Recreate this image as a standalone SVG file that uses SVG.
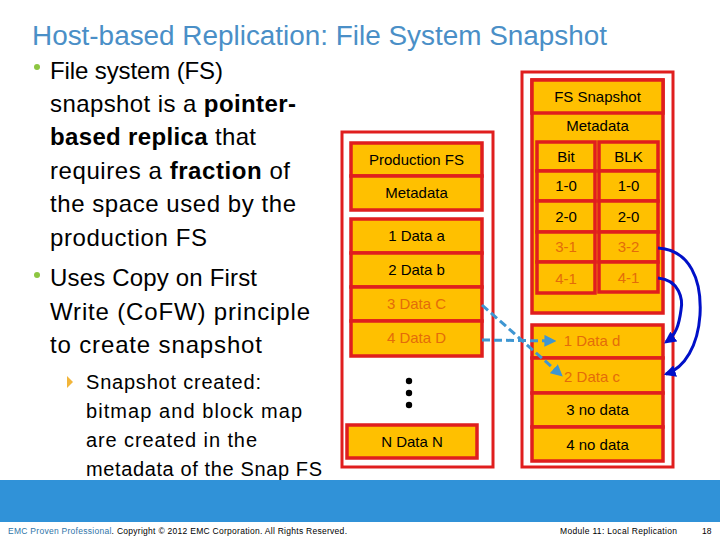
<svg xmlns="http://www.w3.org/2000/svg" width="720" height="540" viewBox="0 0 720 540">
<defs>
<style>
.t{font-family:"Liberation Sans",Arial,sans-serif;}
.title{font-size:27px;fill:#4A8FC7;}
.b{font-size:24px;fill:#000;}
.s{font-size:20px;fill:#000;}
.outer{fill:#fff;stroke:#E01E1E;stroke-width:3;}
.cell{fill:#FFC000;stroke:#E01E1E;stroke-width:3.5;}
.lbl{font-family:"Liberation Sans",Arial,sans-serif;font-size:15px;text-anchor:middle;fill:#000;}
.or{fill:#E46C0A;}
.dash{fill:none;stroke:#3E96D2;stroke-width:3;stroke-dasharray:8 4;}
.curve{fill:none;stroke:#0010C8;stroke-width:3;}
.foot{font-family:"Liberation Sans",Arial,sans-serif;font-size:8.5px;fill:#000;}
</style>
<marker id="ah1" viewBox="0 0 10 10" refX="8" refY="5" markerWidth="4" markerHeight="4" orient="auto">
<path d="M0,0 L10,5 L0,10 z" fill="#3E96D2"/>
</marker>
<marker id="ah2" viewBox="0 0 10 10" refX="8" refY="5" markerWidth="4" markerHeight="4" orient="auto">
<path d="M0,0 L10,5 L0,10 z" fill="#0010C8"/>
</marker>
</defs>
<rect width="720" height="540" fill="#fff"/>
<text class="t title" x="32" y="45" textLength="575" lengthAdjust="spacingAndGlyphs">Host-based Replication: File System Snapshot</text>
<g id="bullets">
<circle cx="37" cy="67" r="3" fill="#8DC641"/>
<text class="t b" x="50" y="79" textLength="173">File system (FS)</text>
<text class="t b" x="50" y="112" textLength="246">snapshot is a <tspan font-weight="bold">pointer-</tspan></text>
<text class="t b" x="50" y="145" textLength="206"><tspan font-weight="bold">based replica</tspan> that</text>
<text class="t b" x="50" y="179" textLength="240">requires a <tspan font-weight="bold">fraction</tspan> of</text>
<text class="t b" x="50" y="212" textLength="246">the space used by the</text>
<text class="t b" x="50" y="246" textLength="157">production FS</text>
<circle cx="37" cy="275" r="3" fill="#8DC641"/>
<text class="t b" x="50" y="286" textLength="207">Uses Copy on First</text>
<text class="t b" x="50" y="320" textLength="260">Write (CoFW) principle</text>
<text class="t b" x="50" y="353" textLength="212">to create snapshot</text>
<path d="M67,376 L73,382 L67,388 z" fill="#F2B53A"/>
<text class="t s" x="86" y="389" textLength="175">Snapshot created:</text>
<text class="t s" x="86" y="418" textLength="216">bitmap and block map</text>
<text class="t s" x="86" y="447" textLength="171">are created in the</text>
<text class="t s" x="86" y="476" textLength="236">metadata of the Snap FS</text>
</g>
<g id="production-fs">
<rect class="outer" x="342" y="132" width="151" height="335"/>
<rect class="cell" x="351" y="143" width="131" height="33"/>
<text class="lbl" x="416.5" y="165">Production FS</text>
<rect class="cell" x="351" y="176" width="131" height="34"/>
<text class="lbl" x="416.5" y="198">Metadata</text>
<rect class="cell" x="351" y="219" width="131" height="34"/>
<text class="lbl" x="416.5" y="241">1 Data a</text>
<rect class="cell" x="351" y="253" width="131" height="34"/>
<text class="lbl" x="416.5" y="275">2 Data b</text>
<rect class="cell" x="351" y="287" width="131" height="34"/>
<text class="lbl or" x="416.5" y="309">3 Data C</text>
<rect class="cell" x="351" y="321" width="131" height="35"/>
<text class="lbl or" x="416.5" y="343">4 Data D</text>
<circle cx="409" cy="381" r="3.2" fill="#000"/>
<circle cx="409" cy="393" r="3.2" fill="#000"/>
<circle cx="409" cy="405" r="3.2" fill="#000"/>
<rect class="cell" x="347" y="425" width="130" height="33"/>
<text class="lbl" x="412" y="447">N Data N</text>
</g>
<g id="fs-snapshot">
<rect class="outer" x="522" y="72" width="151" height="395"/>
<rect class="cell" x="532" y="80" width="131" height="233"/>
<rect class="cell" x="532" y="80" width="131" height="33"/>
<text class="lbl" x="597.5" y="102">FS Snapshot</text>
<text class="lbl" x="597.5" y="131">Metadata</text>
<rect class="cell" x="537" y="142" width="58" height="29"/>
<text class="lbl" x="566" y="162">Bit</text>
<rect class="cell" x="599" y="142" width="59" height="29"/>
<text class="lbl" x="628.5" y="162">BLK</text>
<rect class="cell" x="537" y="171" width="58" height="30"/>
<text class="lbl" x="566" y="191">1-0</text>
<rect class="cell" x="599" y="171" width="59" height="30"/>
<text class="lbl" x="628.5" y="191">1-0</text>
<rect class="cell" x="537" y="201" width="58" height="31"/>
<text class="lbl" x="566" y="222">2-0</text>
<rect class="cell" x="599" y="201" width="59" height="31"/>
<text class="lbl" x="628.5" y="222">2-0</text>
<rect class="cell" x="537" y="232" width="58" height="30"/>
<text class="lbl or" x="566" y="252">3-1</text>
<rect class="cell" x="599" y="232" width="59" height="30"/>
<text class="lbl or" x="628.5" y="252">3-2</text>
<rect class="cell" x="537" y="262" width="58" height="31"/>
<text class="lbl or" x="566" y="284">4-1</text>
<rect class="cell" x="599" y="262" width="59" height="30"/>
<text class="lbl or" x="628.5" y="283">4-1</text>
<rect class="cell" x="532" y="325" width="131" height="33"/>
<text class="lbl or" x="592" y="346">1 Data d</text>
<rect class="cell" x="532" y="358" width="131" height="35"/>
<text class="lbl or" x="592" y="382">2 Data c</text>
<rect class="cell" x="532" y="393" width="131" height="34"/>
<text class="lbl" x="597.5" y="415">3 no data</text>
<rect class="cell" x="532" y="427" width="131" height="34"/>
<text class="lbl" x="597.5" y="450">4 no data</text>
</g>
<g id="connectors">
<path class="dash" d="M482,305 L561,375" marker-end="url(#ah1)"/>
<path class="dash" d="M482,340 L554,341" marker-end="url(#ah1)"/>
<path class="curve" d="M658,248 C690,250 702,280 700,315 C698,345 685,368 666,374" marker-end="url(#ah2)"/>
<path class="curve" d="M658,278 C680,280 683,300 681,310 C679,325 676,335 666,342" marker-end="url(#ah2)"/>
</g>
<g id="footer">
<rect x="0" y="480" width="720" height="42" fill="#3092D8"/>
<text class="foot" x="8" y="534" textLength="339"><tspan fill="#2E74A8">EMC Proven Professional</tspan>. Copyright © 2012 EMC Corporation. All Rights Reserved.</text>
<text class="foot" x="560" y="534" textLength="117">Module 11: Local Replication</text>
<text class="foot" x="702" y="534">18</text>
</g>
</svg>
